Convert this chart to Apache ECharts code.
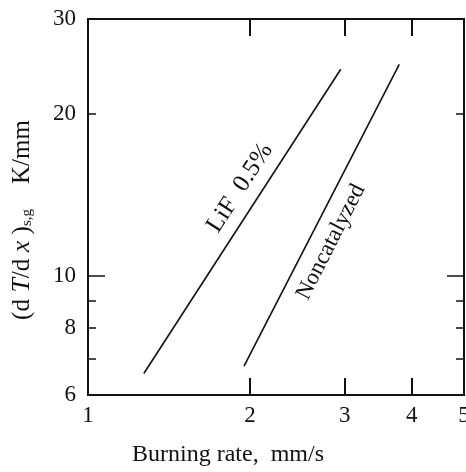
<!DOCTYPE html>
<html>
<head>
<meta charset="utf-8">
<script src="https://cdn.jsdelivr.net/npm/echarts@6/dist/echarts.min.js"></script>
<style>html,body{margin:0;padding:0;background:#fff;}#c{width:466px;height:472px;}</style>
</head>
<body>
<div id="c"></div>
<script>
// Data
var lifRate = [1.27, 2.95];
var lifGrad = [6.58, 24.2];
var noncatRate = [1.95, 3.79];
var noncatGrad = [6.79, 24.7];
var xTickLabels = [1, 2, 3, 4, 5];
var xTicks = [2, 3, 4];
var yTickLabels = [6, 8, 10, 20, 30];
var yLongTicks = [10];
var yShortTicks = [7, 8, 9, 20];

function pairs(xs, ys) { return xs.map(function (x, i) { return [x, ys[i]]; }); }

var FONT = '"Liberation Serif", "DejaVu Serif", serif';
var black = '#111';

function xAx(pos, labels) {
  return {
    type: 'log', logBase: 10, min: 1, max: 5, position: pos,
    axisLine: { show: true, onZero: false, lineStyle: { color: black, width: 2 } },
    axisTick: { show: true, inside: true, length: 17, customValues: xTicks, lineStyle: { color: black, width: 2 } },
    axisLabel: { show: labels, customValues: xTickLabels, margin: 9, color: black, fontFamily: FONT, fontSize: 23 },
    splitLine: { show: false }, minorTick: { show: false }
  };
}
function yAx(pos, ticks, len, labels) {
  return {
    type: 'log', logBase: 10, min: 6, max: 30, position: pos, offset: 0,
    axisLine: { show: true, onZero: false, lineStyle: { color: black, width: 2 } },
    axisTick: { show: true, inside: true, length: len, customValues: ticks, lineStyle: { color: black, width: 1.5 } },
    axisLabel: { show: labels, customValues: yTickLabels, margin: 12, color: black, fontFamily: FONT, fontSize: 23 },
    splitLine: { show: false }, minorTick: { show: false }
  };
}

var chart = echarts.init(document.getElementById('c'), null, { renderer: 'canvas' });
chart.setOption({
  animation: false,
  backgroundColor: '#fff',
  grid: { left: 88, right: 2, top: 19, bottom: 77, containLabel: false, outerBoundsMode: 'none' },
  xAxis: [xAx('bottom', true), xAx('top', false)],
  yAxis: [
    yAx('left', yLongTicks, 17, true),
    yAx('left', yShortTicks, 8, false),
    yAx('right', yLongTicks, 17, false),
    yAx('right', yShortTicks, 8, false)
  ],
  series: [
    { type: 'line', name: 'LiF 0.5%', data: pairs(lifRate, lifGrad), symbol: 'none',
      lineStyle: { color: black, width: 1.6 } },
    { type: 'line', name: 'Noncatalyzed', data: pairs(noncatRate, noncatGrad), symbol: 'none',
      lineStyle: { color: black, width: 1.6 } }
  ],
  graphic: [
    { type: 'text', x: 240, y: 188, rotation: 57 * Math.PI / 180,
      style: { text: 'LiF  0.5%', fill: black, font: '25px ' + FONT, align: 'center', verticalAlign: 'middle' } },
    { type: 'text', x: 331, y: 242, rotation: 63 * Math.PI / 180,
      style: { text: 'Noncatalyzed', fill: black, font: '23px ' + FONT, align: 'center', verticalAlign: 'middle' } },
    { type: 'text', x: 228, y: 455,
      style: { text: 'Burning rate,  mm/s', fill: black, font: '24px ' + FONT, align: 'center', verticalAlign: 'middle' } },
    { type: 'text', x: 22, y: 220, rotation: Math.PI / 2,
      style: {
        text: '(d{i| T}/d{i| x} ){sub|s,g}    K/mm',
        fill: black, font: '25px ' + FONT, align: 'center', verticalAlign: 'middle',
        rich: {
          i: { fontStyle: 'italic', fontFamily: FONT, fontSize: 26, fill: black },
          sub: { fontFamily: FONT, fontSize: 15, fill: black, verticalAlign: 'bottom', padding: [9, 0, 0, 0] }
        }
      } }
  ]
});
</script>
</body>
</html>
